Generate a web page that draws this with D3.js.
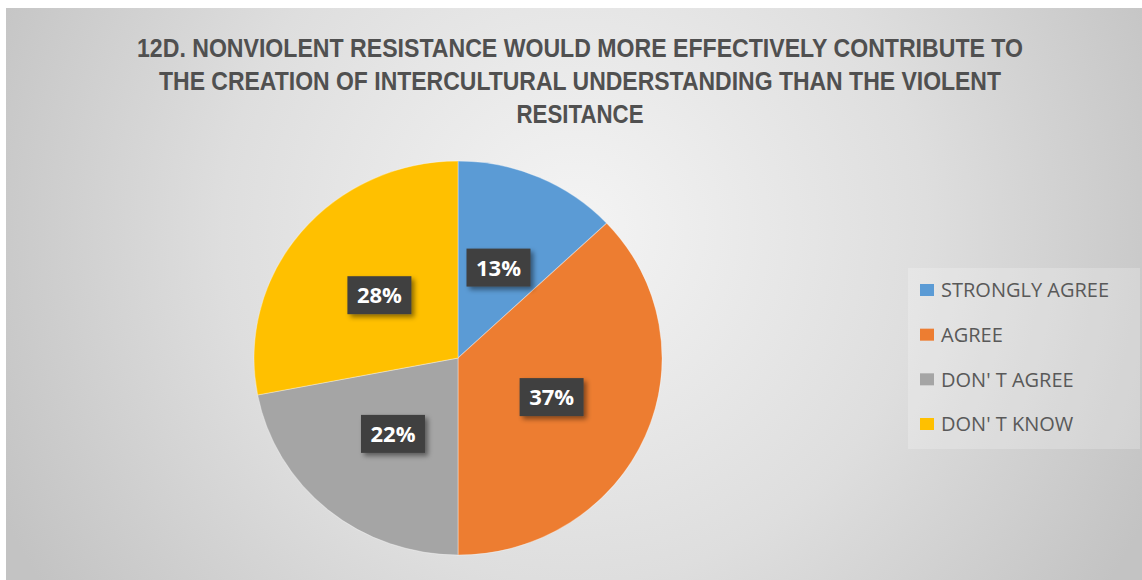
<!DOCTYPE html>
<html>
<head>
<meta charset="utf-8">
<script src="https://cdn.jsdelivr.net/npm/d3@7"></script>
<style>
  html, body { margin: 0; padding: 0; background: #ffffff; }
  svg { display: block; }
</style>
</head>
<body>
<svg id="chart" width="1142" height="580"></svg>
<script>
// Survey answers, in drawing order (clockwise from 12 o'clock)
const categories = ["STRONGLY AGREE", "AGREE", "DON' T AGREE", "DON' T KNOW"];
const percents = [13, 37, 22, 28];
const sliceColors = ["#5B9BD5", "#ED7D31", "#A5A5A5", "#FFC000"];
const titleLines = [
  "12D. NONVIOLENT RESISTANCE WOULD MORE EFFECTIVELY CONTRIBUTE TO",
  "THE CREATION OF INTERCULTURAL UNDERSTANDING THAN THE VIOLENT",
  "RESITANCE"
];

const W = 1142, H = 580;
const svg = d3.select("#chart");
const defs = svg.append("defs");

// Chart area background: soft radial grey gradient
const grad = defs.append("radialGradient")
  .attr("id", "bg").attr("gradientUnits", "userSpaceOnUse")
  .attr("cx", 575).attr("cy", 230).attr("r", 640);
grad.append("stop").attr("offset", "0%").attr("stop-color", "#f4f4f4");
grad.append("stop").attr("offset", "55%").attr("stop-color", "#dedede");
grad.append("stop").attr("offset", "100%").attr("stop-color", "#c3c3c3");

const shadow = defs.append("filter").attr("id", "shadow")
  .attr("x", "-30%").attr("y", "-30%").attr("width", "160%").attr("height", "160%");
shadow.append("feDropShadow").attr("dx", 3).attr("dy", 3)
  .attr("stdDeviation", 2.5).attr("flood-color", "#000").attr("flood-opacity", 0.45);

svg.append("rect").attr("x", 6).attr("y", 8)
  .attr("width", W - 6).attr("height", H - 8).attr("fill", "url(#bg)");

// Title
const title = svg.append("g")
  .attr("font-family", "'Liberation Sans Narrow', 'Liberation Sans', sans-serif")
  .attr("font-weight", "bold").attr("font-size", 26).attr("fill", "#505050")
  .attr("text-anchor", "middle");
const titleWidths = [886, 842, 127];
title.selectAll("text").data(titleLines).join("text")
  .attr("x", 580)
  .attr("y", (d, i) => 57 + i * 33)
  .attr("textLength", (d, i) => titleWidths[i])
  .attr("lengthAdjust", "spacingAndGlyphs")
  .text(d => d);

// Pie (slightly wider than tall)
const cx = 458, cy = 358, rx = 204, ry = 197;
const pie = d3.pie().sort(null).value(d => d)(percents);
const arc = d3.arc().innerRadius(0).outerRadius(ry);

const pieG = svg.append("g")
  .attr("transform", `translate(${cx},${cy}) scale(${rx / ry},1)`);
pieG.selectAll("path").data(pie).join("path")
  .attr("d", arc)
  .attr("fill", (d, i) => sliceColors[i])
  .attr("stroke", "#ffffff").attr("stroke-opacity", 0.35).attr("stroke-width", 1);

// Data labels in dark boxes
const labelR = 0.5;
const labels = svg.append("g")
  .selectAll("g").data(pie).join("g")
  .attr("transform", d => {
    const a = (d.startAngle + d.endAngle) / 2;
    return `translate(${cx + Math.sin(a) * rx * labelR},${cy - Math.cos(a) * ry * labelR})`;
  });
labels.append("rect")
  .attr("x", -32).attr("y", -19).attr("width", 64).attr("height", 38)
  .attr("fill", "#404040").attr("filter", "url(#shadow)");
labels.append("text")
  .attr("text-anchor", "middle").attr("dy", "0.36em")
  .attr("font-family", "'Open Sans', 'DejaVu Sans', sans-serif")
  .attr("font-weight", "bold").attr("font-size", 22).attr("fill", "#ffffff")
  .text(d => d.data + "%");

// Legend
const legend = svg.append("g");
legend.append("rect").attr("x", 908).attr("y", 268)
  .attr("width", 232).attr("height", 181)
  .attr("fill", "#ffffff").attr("fill-opacity", 0.22);
const rowY = d3.scalePoint().domain(categories).range([290, 424]);
const items = legend.selectAll("g.item").data(categories).join("g")
  .attr("class", "item")
  .attr("transform", d => `translate(920,${rowY(d)})`);
items.append("rect").attr("x", 0).attr("y", -6).attr("width", 14).attr("height", 12)
  .attr("fill", (d, i) => sliceColors[i]);
items.append("text").attr("x", 21).attr("dy", "0.36em")
  .attr("font-family", "'Open Sans', 'Liberation Sans', sans-serif")
  .attr("font-size", 20).attr("fill", "#595959")
  .text(d => d);
</script>
</body>
</html>
